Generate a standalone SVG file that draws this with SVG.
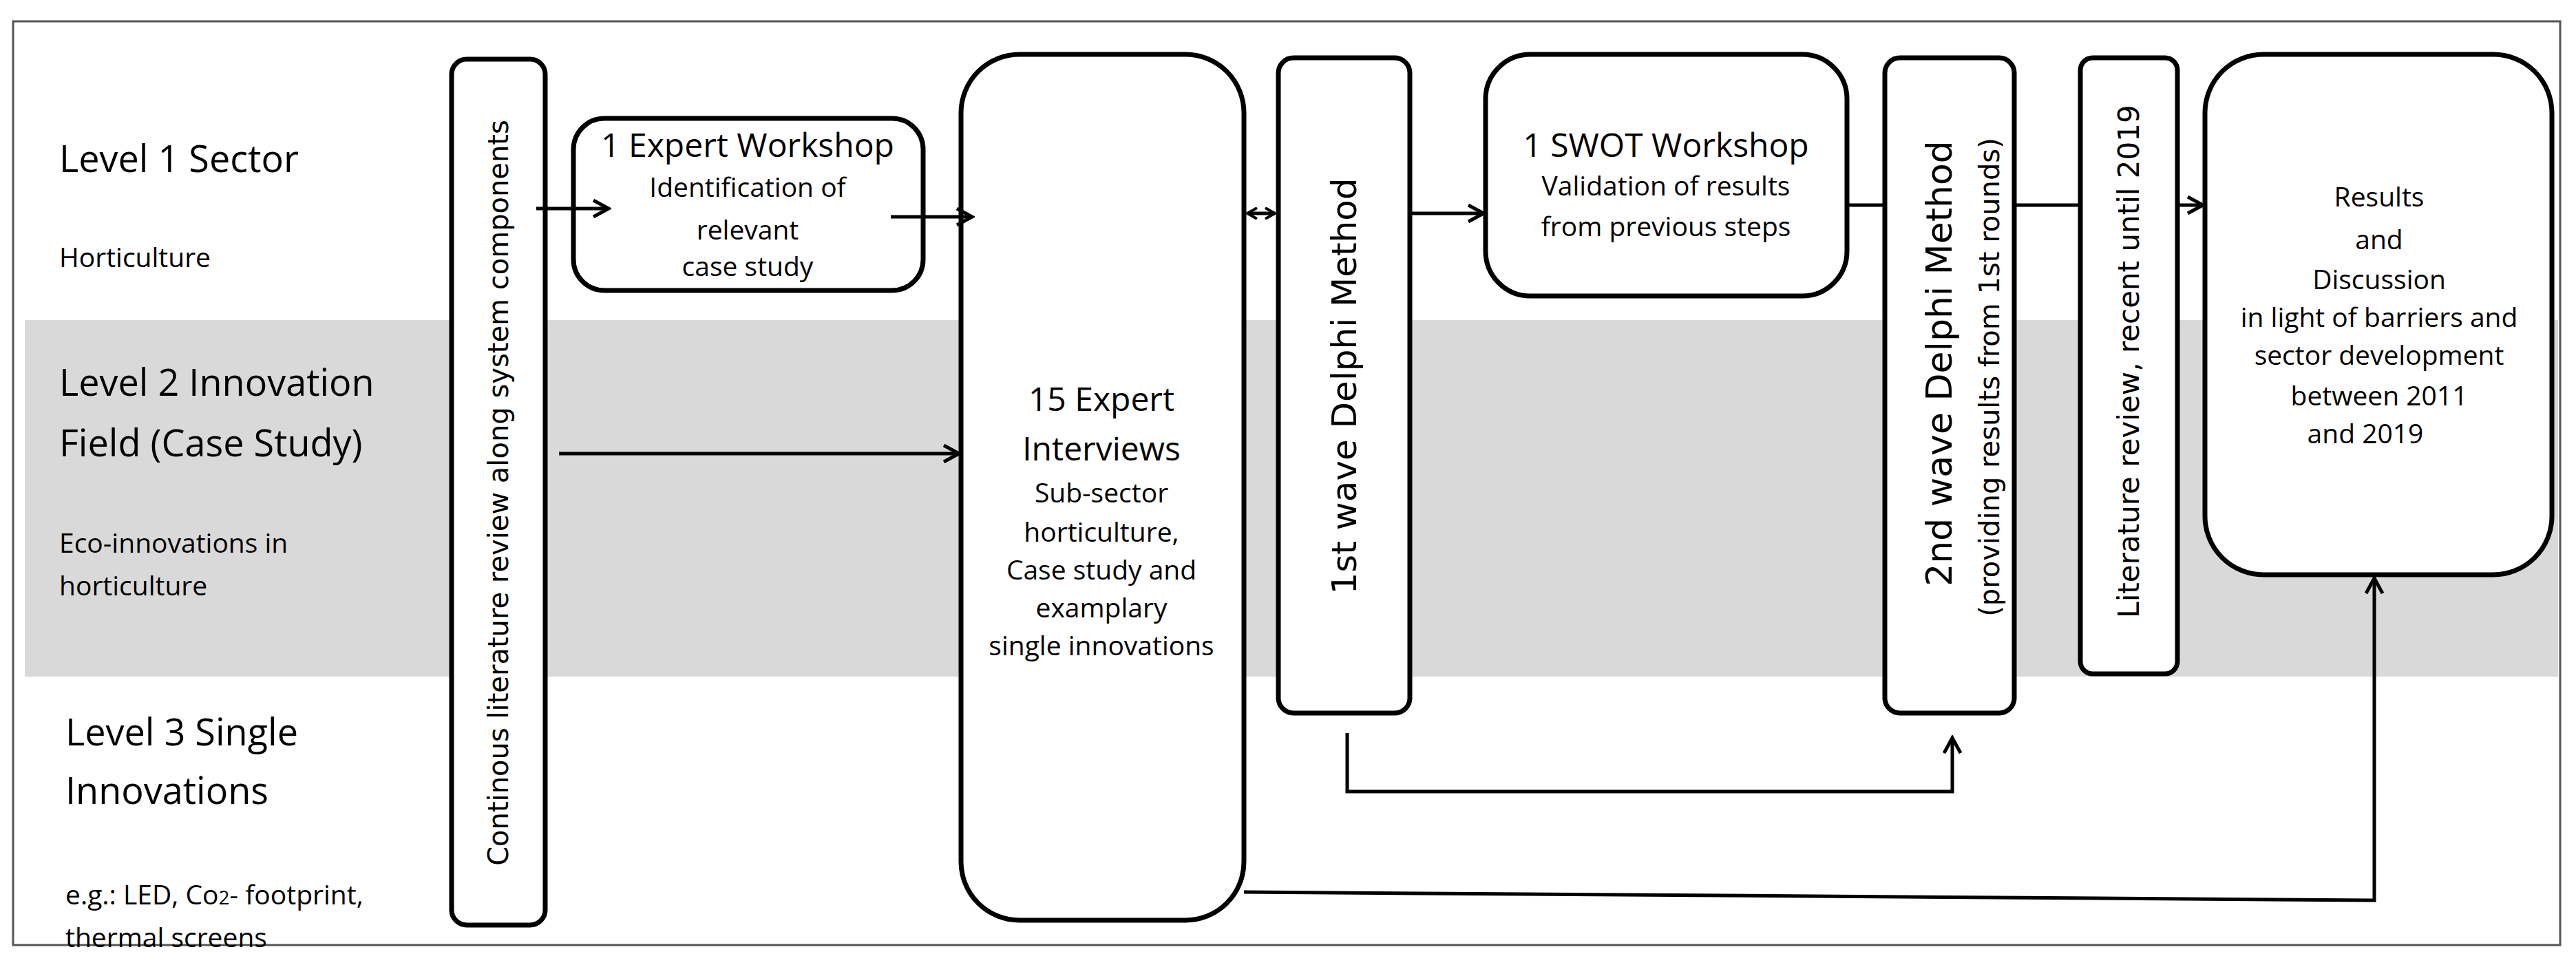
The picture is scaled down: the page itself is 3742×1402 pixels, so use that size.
<svg xmlns="http://www.w3.org/2000/svg" width="3742" height="1402" viewBox="0 0 3742 1402">
<style>
.box{fill:#fff;stroke:#000;stroke-width:7}
.ln{fill:none;stroke:#000;stroke-width:5}
.t{font-family:"Open Sans","DejaVu Sans",sans-serif;fill:#000}
.lv{font-size:54px}
.sm{font-size:39px}
.c{text-anchor:middle}
.r{font-family:"DejaVu Sans",sans-serif;text-anchor:middle}
</style>
<defs>
<marker id="b" markerWidth="28" markerHeight="28" refX="24" refY="14" orient="auto-start-reverse" markerUnits="userSpaceOnUse"><path d="M2,2 L24,14 L2,26" fill="none" stroke="#000" stroke-width="5"/></marker>
<marker id="s" markerWidth="18" markerHeight="18" refX="15" refY="9" orient="auto-start-reverse" markerUnits="userSpaceOnUse"><path d="M1,1 L15,9 L1,17" fill="none" stroke="#000" stroke-width="4"/></marker>
</defs>
<rect x="0" y="0" width="3742" height="1402" fill="#fff"/>
<rect x="36" y="465" width="3680" height="518" fill="#d9d9d9"/>
<rect x="19" y="31" width="3700" height="1342" fill="none" stroke="#555" stroke-width="3"/>
<g id="labels" class="t">
<text x="86" y="250" class="lv">Level 1 Sector</text>
<text x="86" y="388" class="sm">Horticulture</text>
<text x="86" y="575" class="lv">Level 2 Innovation</text>
<text x="86" y="663" class="lv">Field (Case Study)</text>
<text x="86" y="803" class="sm">Eco-innovations in</text>
<text x="86" y="865" class="sm">horticulture</text>
<text x="95" y="1083" class="lv">Level 3 Single</text>
<text x="95" y="1168" class="lv">Innovations</text>
<text x="95" y="1314" class="sm">e.g.: LED, Co<tspan font-size="28">2</tspan>- footprint,</text>
<text x="95" y="1376" class="sm">thermal screens</text>
</g>
<g id="litreview">
<rect class="box" x="656" y="86" width="136" height="1258" rx="22"/>
<text class="r" transform="translate(738,716) rotate(-90)" font-size="40">Continous literature review along system components</text>
</g>
<g id="workshop">
<rect class="box" x="833" y="172" width="508" height="250" rx="45"/>
<text class="t c" x="1086" y="228" font-size="48">1 Expert Workshop</text>
<text class="t c sm" x="1086" y="286">Identification of</text>
<text class="t c sm" x="1086" y="348">relevant</text>
<text class="t c sm" x="1086" y="401">case study</text>
</g>
<g id="interviews">
<rect class="box" x="1396" y="79" width="411" height="1258" rx="85"/>
<text class="t c" x="1600" y="597" font-size="48">15 Expert</text>
<text class="t c" x="1600" y="669" font-size="48">Interviews</text>
<text class="t c sm" x="1600" y="730">Sub-sector</text>
<text class="t c sm" x="1600" y="787">horticulture,</text>
<text class="t c sm" x="1600" y="842">Case study and</text>
<text class="t c sm" x="1600" y="897">examplary</text>
<text class="t c sm" x="1600" y="952">single innovations</text>
</g>
<g id="delphi1">
<rect class="box" x="1857" y="84" width="191" height="952" rx="22"/>
<text class="r" transform="translate(1970,561) rotate(-90)" font-size="50">1st wave Delphi Method</text>
</g>
<g id="swot">
<rect class="box" x="2158" y="79" width="525" height="351" rx="65"/>
<text class="t c" x="2420" y="228" font-size="48">1 SWOT Workshop</text>
<text class="t c sm" x="2420" y="284">Validation of results</text>
<text class="t c sm" x="2420" y="343">from previous steps</text>
</g>
<g id="delphi2">
<rect class="box" x="2738" y="84" width="188" height="952" rx="22"/>
<text class="r" transform="translate(2835,528) rotate(-90)" font-size="52">2nd wave Delphi Method</text>
<text class="r" transform="translate(2904,548) rotate(-90)" font-size="40">(providing results from 1st rounds)</text>
</g>
<g id="litrecent">
<rect class="box" x="3022" y="84" width="141" height="895" rx="18"/>
<text class="r" transform="translate(3107,525) rotate(-90)" font-size="42">Literature review, recent until 2019</text>
</g>
<g id="results">
<rect class="box" x="3203" y="79" width="504" height="756" rx="85"/>
<text class="t c sm" x="3456" y="300">Results</text>
<text class="t c sm" x="3456" y="362">and</text>
<text class="t c sm" x="3456" y="420">Discussion</text>
<text class="t c sm" x="3456" y="475">in light of barriers and</text>
<text class="t c sm" x="3456" y="530">sector development</text>
<text class="t c sm" x="3456" y="589">between 2011</text>
<text class="t c sm" x="3436" y="644">and 2019</text>
</g>
<g id="connectors" class="ln">
<line x1="779" y1="303" x2="884" y2="303" marker-end="url(#b)"/>
<line x1="1294" y1="315" x2="1412" y2="315" marker-end="url(#b)"/>
<line x1="812" y1="659" x2="1393" y2="659" marker-end="url(#b)"/>
<line x1="1812" y1="310" x2="1852" y2="310" marker-start="url(#s)" marker-end="url(#s)"/>
<line x1="2048" y1="310" x2="2155" y2="310" marker-end="url(#b)"/>
<line x1="2683" y1="298" x2="2738" y2="298"/>
<line x1="2926" y1="298" x2="3022" y2="298"/>
<line x1="3163" y1="298" x2="3200" y2="298" marker-end="url(#b)"/>
<polyline points="1957,1065 1957,1150 2836,1150 2836,1072" marker-end="url(#b)"/>
<polyline points="1807,1296 3449,1308 3449,840" marker-end="url(#b)"/>
</g>
</svg>
